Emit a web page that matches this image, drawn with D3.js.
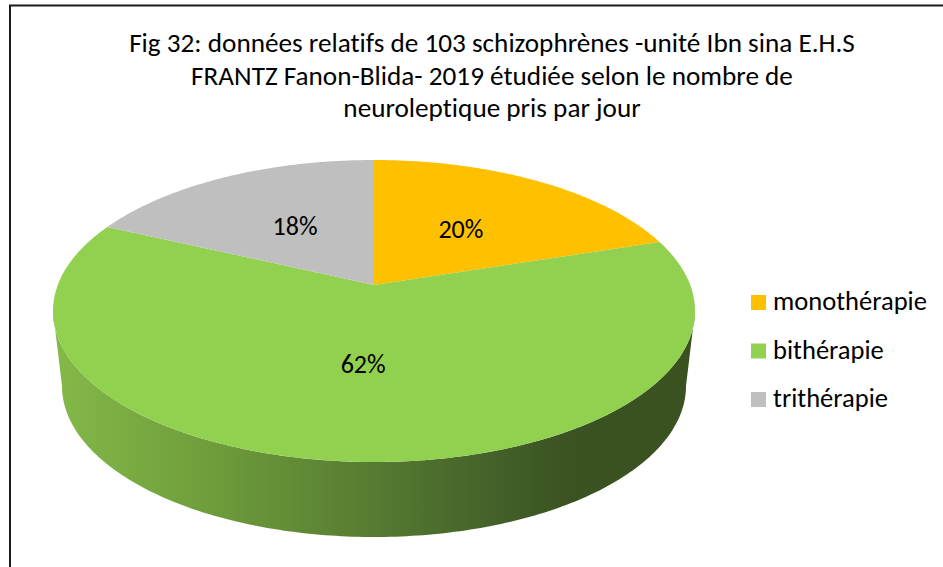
<!doctype html>
<html lang="fr">
<head>
  <meta charset="UTF-8">
  <title>Fig 32</title>
  <script src="https://cdn.jsdelivr.net/npm/d3@7/dist/d3.min.js"></script>
  <style>text { font-variant-ligatures: none; }</style>
</head>
<body style="margin:0; background:white">
<div id="container"></div>
<script type="text/javascript">
var categories = ['monothérapie', 'bithérapie', 'trithérapie'];
var values = [20, 62, 18];
var colors = ['#FFC000', '#92D050', '#BFBFBF'];
var titleLines = [
  'Fig 32: données relatifs de 103 schizophrènes -unité Ibn sina E.H.S',
  'FRANTZ Fanon-Blida- 2019 étudiée selon le nombre de',
  'neuroleptique pris par jour'
];

var W = 943, H = 567;
var font = 'Calibri, Carlito, Lato, sans-serif';

var svg = d3.select('#container').append('svg')
  .attr('width', W)
  .attr('height', H);

// frame
svg.append('path')
  .attr('d', 'M10,' + H + 'V5.5H' + (W + 5))
  .attr('fill', 'none')
  .attr('stroke', '#1a1a1a')
  .attr('stroke-width', 2);

// top face and bottom face of the 3D pie
var x = d3.scaleLinear().domain([-1, 1]).range([53, 695]);
var y = d3.scaleLinear().domain([-1, 1]).range([160, 462]);
var xb = d3.scaleLinear().domain([-1, 1]).range([62, 686]);
var yb = d3.scaleLinear().domain([-1, 1]).range([235, 537]);
var tilt = 0.172; // perspective shift of the centre

// point on the disc (r, angle) -> screen
function proj(r, a) {
  var px = r * Math.sin(a), py = -r * Math.cos(a);
  var den = 1 - tilt * py;
  return [x(px * Math.sqrt(1 - tilt * tilt) / den), y((py - tilt) / den)];
}

var defs = svg.append('defs');
var grad = defs.append('linearGradient')
  .attr('id', 'side')
  .attr('gradientUnits', 'userSpaceOnUse')
  .attr('x1', 53).attr('x2', 695).attr('y1', 0).attr('y2', 0);
[[0, '#84B948'], [0.25, '#6E9C3B'], [0.5, '#567B31'], [0.68, '#44622A'], [0.8, '#3B5322'], [1, '#3A5220']]
  .forEach(function(s) {
    grad.append('stop').attr('offset', s[0]).attr('stop-color', s[1]);
  });

// side wall (front half is all bithérapie)
var line = d3.line();
var sidePts = [];
d3.range(0, 181).forEach(function(i) {
  var t = i / 180 * Math.PI;
  sidePts.push([x(Math.cos(t)), y(Math.sin(t))]);
});
d3.range(180, -1, -1).forEach(function(i) {
  var t = i / 180 * Math.PI;
  sidePts.push([xb(Math.cos(t)), yb(Math.sin(t))]);
});
svg.append('path')
  .attr('d', line(sidePts) + 'Z')
  .attr('fill', 'url(#side)');

var pie = d3.pie().sort(null).value(function(d) { return d; });
var arcs = pie(values);

svg.selectAll('.slice').data(arcs).enter()
  .append('path')
  .attr('class', 'slice')
  .attr('fill', function(d, i) { return colors[i]; })
  .attr('d', function(d) {
    var pts = [proj(0, 0)];
    var n = Math.max(2, Math.ceil((d.endAngle - d.startAngle) / 0.01));
    for (var k = 0; k <= n; k++) {
      pts.push(proj(1, d.startAngle + (d.endAngle - d.startAngle) * k / n));
    }
    return line(pts) + 'Z';
  });

var labels = svg.selectAll('.label').data(arcs).enter()
  .append('text')
  .attr('class', 'label')
  .attr('x', function(d) { return proj(0.5, (d.startAngle + d.endAngle) / 2)[0]; })
  .attr('y', function(d) { return proj(0.5, (d.startAngle + d.endAngle) / 2)[1] + 8; })
  .attr('text-anchor', 'middle')
  .attr('font-family', font)
  .attr('font-size', 21)
  .attr('fill', '#000')
  .text(function(d, i) { return values[i] + '%'; });
var labw = labels.nodes()[0].getComputedTextLength();
labels.attr('font-size', 21 * 45 / labw);

// legend
var legend = svg.selectAll('.legend').data(categories).enter()
  .append('g')
  .attr('class', 'legend')
  .attr('transform', function(d, i) { return 'translate(751,' + (295 + i * 48.5) + ')'; });
legend.append('rect')
  .attr('width', 15).attr('height', 15)
  .attr('fill', function(d, i) { return colors[i]; });
var legendText = legend.append('text')
  .attr('x', 22)
  .attr('y', 15)
  .attr('font-family', font)
  .attr('font-size', 22)
  .attr('fill', '#000')
  .text(function(d) { return d; });
var lw = legendText.nodes()[0].getComputedTextLength();
legendText.attr('font-size', 22 * 154 / lw);

// title
var title = svg.selectAll('.title').data(titleLines).enter()
  .append('text')
  .attr('class', 'title')
  .attr('x', 492)
  .attr('y', function(d, i) { return 52 + i * 32.5; })
  .attr('text-anchor', 'middle')
  .attr('font-family', font)
  .attr('font-size', 21)
  .attr('fill', '#000')
  .text(function(d) { return d; });
var tw = title.nodes()[0].getComputedTextLength();
title.attr('font-size', 21 * 726 / tw);
</script>
</body>
</html>
